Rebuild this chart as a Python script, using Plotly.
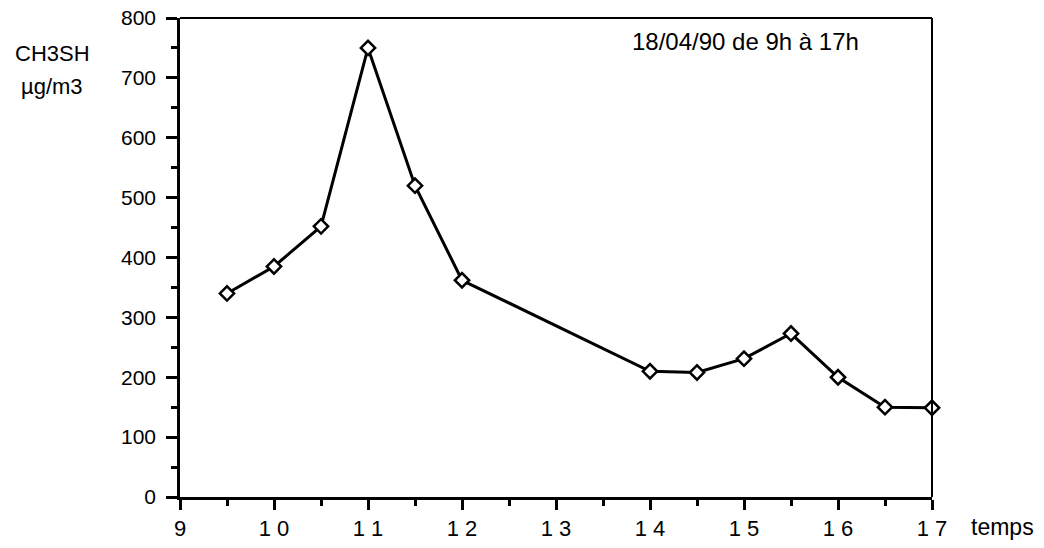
import plotly.graph_objects as go

hours = [9.5, 10, 10.5, 11, 11.5, 12, 14, 14.5, 15, 15.5, 16, 16.5, 17]
ch3sh = [340, 385, 452, 750, 520, 362, 210, 208, 231, 273, 200, 150, 149]
x_ticks = [9, 10, 11, 12, 13, 14, 15, 16, 17]
x_labels = ["9", "1 0", "1 1", "1 2", "1 3", "1 4", "1 5", "1 6", "1 7"]
y_ticks = [0, 100, 200, 300, 400, 500, 600, 700, 800]

FONT = "Liberation Sans, Arial, sans-serif"

fig = go.Figure()
fig.add_trace(go.Scatter(
    x=hours, y=ch3sh, mode="lines+markers",
    line=dict(color="black", width=3),
    marker=dict(symbol="diamond", size=11, color="white",
                line=dict(color="black", width=2.5)),
    cliponaxis=False, showlegend=False))

fig.update_layout(
    width=1044, height=548,
    margin=dict(l=180, r=112, t=18, b=51),
    paper_bgcolor="white", plot_bgcolor="white",
    font=dict(family=FONT, size=22, color="black"),
    xaxis=dict(range=[9, 17], tickvals=x_ticks, ticktext=x_labels,
               automargin=False,
               showgrid=False, zeroline=False,
               showline=True, linecolor="black", linewidth=2.5,
               ticks="outside", ticklen=10, tickwidth=2.5, tickcolor="black",
               minor=dict(dtick=0.5, ticks="outside", ticklen=6, tickwidth=2.5, tickcolor="black"),
               tickfont=dict(size=22)),
    yaxis=dict(range=[0, 800], tickvals=y_ticks,
               automargin=False,
               showgrid=False, zeroline=False,
               showline=True, linecolor="black", linewidth=2.5,
               ticks="outside", ticklen=11, tickwidth=2.5, tickcolor="black",
               ticklabelstandoff=6,
               minor=dict(dtick=50, ticks="outside", ticklen=6, tickwidth=2.5, tickcolor="black"),
               tickfont=dict(size=21)),
    shapes=[
        dict(type="line", xref="paper", yref="paper", x0=0, x1=1, y0=1, y1=1,
             line=dict(color="black", width=2)),
        dict(type="line", xref="paper", yref="paper", x0=1, x1=1, y0=0, y1=1,
             line=dict(color="black", width=2)),
    ],
)

fig.add_annotation(xref="paper", yref="paper", x=-0.170, y=0.925,
                   xanchor="center", yanchor="middle", text="CH3SH",
                   showarrow=False, font=dict(size=22))
fig.add_annotation(xref="paper", yref="paper", x=-0.170, y=0.858,
                   xanchor="center", yanchor="middle", text="µg/m3",
                   showarrow=False, font=dict(size=22))
fig.add_annotation(xref="paper", yref="paper", x=0.752, y=0.95,
                   xanchor="center", yanchor="middle", text="18/04/90 de 9h à 17h",
                   showarrow=False, font=dict(size=24))
fig.add_annotation(xref="paper", yref="paper", x=1.049, y=-0.062,
                   xanchor="left", yanchor="middle", text="temps",
                   showarrow=False, font=dict(size=23))

fig.write_html("out.html")
